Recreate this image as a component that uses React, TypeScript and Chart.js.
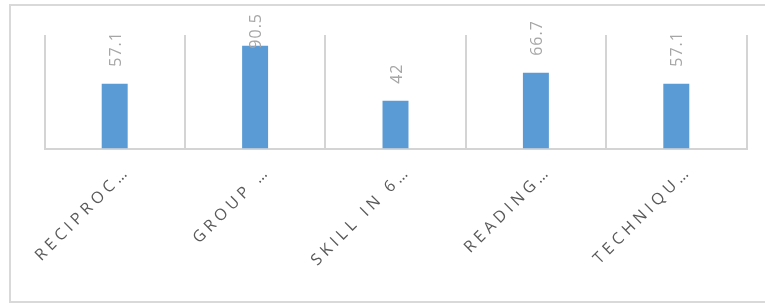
import React, { useEffect, useRef } from "react";
import { Chart, registerables } from "chart.js";

Chart.register(...registerables);

const categories = ["RECIPROC…", "GROUP …", "SKILL IN 6…", "READING…", "TECHNIQU…"];
const values = [57.1, 90.5, 42, 66.7, 57.1];
const yMin = 0;
const yMax = 100;

const labelPlugin = {
  id: "customLabels",
  afterDatasetsDraw(chart: any) {
    const ctx = chart.ctx;
    const meta = chart.getDatasetMeta(0);
    const xs = chart.scales.x;
    ctx.save();
    // value labels
    ctx.font = '16px "Open Sans"';
    ctx.fillStyle = "#a6a6a6";
    (ctx as any).letterSpacing = "1px";
    meta.data.forEach((bar: any, i: number) => {
      const txt = String(chart.data.datasets[0].data[i]);
      const w = ctx.measureText(txt).width;
      let start = bar.y - 17;
      if (start - w < 13) start = 13 + w;
      ctx.save();
      ctx.translate(bar.x + 6, start);
      ctx.rotate(-Math.PI / 2);
      ctx.textAlign = "left";
      ctx.textBaseline = "alphabetic";
      ctx.fillText(txt, 0, 0);
      ctx.restore();
    });
    // category labels
    const sp = 4.3;
    ctx.font = '16px "Open Sans"';
    ctx.fillStyle = "#595959";
    (ctx as any).letterSpacing = sp + "px";
    (chart.data.labels as string[]).forEach((c: string, i: number) => {
      const x = xs.getPixelForValue(i);
      ctx.save();
      ctx.translate(x + 13, 175);
      ctx.rotate(-Math.PI / 4);
      ctx.textAlign = "right";
      ctx.textBaseline = "alphabetic";
      ctx.fillText(c, sp, 0);
      ctx.restore();
    });
    ctx.restore();
  },
};

export default function App() {
  const ref = useRef<HTMLCanvasElement>(null);
  useEffect(() => {
    if (!ref.current) return;
    const chart = new Chart(ref.current, {
      type: "bar",
      data: {
        labels: categories,
        datasets: [
          {
            data: values,
            backgroundColor: "#5b9bd5",
            borderWidth: 0,
            categoryPercentage: 1,
            barPercentage: 0.185,
          },
        ],
      },
      options: {
        responsive: false,
        animation: false,
        layout: { padding: { left: 44.5, right: 18.5, top: 35, bottom: 154.5 } },
        plugins: { legend: { display: false }, tooltip: { enabled: false } },
        scales: {
          x: {
            grid: { display: true, color: "#d4d4d4", lineWidth: 2, drawTicks: false, offset: true },
            border: { display: true, color: "#d4d4d4", width: 2 },
            ticks: { display: false },
            afterFit: (s: any) => {
              s.height = 0;
            },
          },
          y: {
            display: false,
            min: yMin,
            max: yMax,
            afterFit: (s: any) => {
              s.width = 0;
            },
          },
        },
      },
      plugins: [labelPlugin],
    });
    return () => chart.destroy();
  }, []);
  return (
    <div style={{ position: "absolute", left: 0, top: 0, width: 765, height: 303, overflow: "hidden", background: "#fff" }}>
      <div
        style={{
          position: "absolute",
          left: 9,
          top: 4,
          width: 800,
          height: 295,
          border: "2px solid #d9d9d9",
        }}
      />
      <canvas ref={ref} width={765} height={303} style={{ position: "absolute", left: 0, top: 0 }} />
    </div>
  );
}
